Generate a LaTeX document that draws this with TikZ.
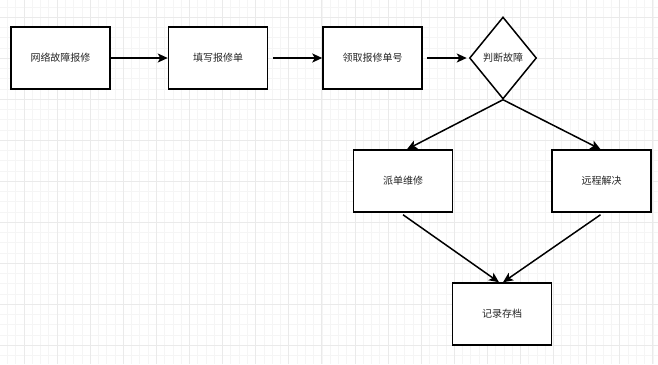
\documentclass[tikz,border=0pt]{standalone}
\usepackage{fontspec}
\newfontfamily\cjk{Noto Sans CJK SC}
\usetikzlibrary{positioning, arrows.meta, shapes.geometric}

\definecolor{gridminor}{HTML}{F5F5F5}
\definecolor{gridmajor}{HTML}{EAEAEA}

\begin{document}
\begin{tikzpicture}[
    x=1pt, y=-1pt,
    stepbox/.style={rectangle, draw=black, fill=white, line width=1.5pt, minimum width=99pt, minimum height=62pt, inner sep=0pt, font=\cjk\fontsize{10}{12}\selectfont, text=black!85},
    decide/.style={diamond, draw=black, fill=white, line width=1.5pt, minimum width=67pt, minimum height=82pt, inner sep=0pt, font=\cjk\fontsize{10}{12}\selectfont, text=black!85},
    arrow/.style={-{Stealth[length=10pt, width=9pt, inset=2.5pt]}, line width=1.5pt, draw=black}
]
    \useasboundingbox (0,0) rectangle (658,364);
    \fill[white] (0,0) rectangle (658,364);
    % background grid
    \begin{scope}[shift={(24,17.3)}]
        \draw[gridminor, line width=0.8pt, xstep=8.275pt, ystep=10.25pt] (-24,-17.3) grid (634,346.7);
        \draw[gridmajor, line width=0.9pt, xstep=33.1pt, ystep=41pt] (-24,-17.3) grid (634,346.7);
    \end{scope}

    \node [stepbox] (fault) at (60.5,58) {网络故障报修};
    \node [stepbox, right=57pt of fault] (fill) {填写报修单};
    \node [stepbox, right=54pt of fill] (take) {领取报修单号};
    \node [decide, right=46pt of take] (judge) {判断故障};
    \node [stepbox] (dispatch) at (403,181) {派单维修};
    \node [stepbox] (remote) at (601.5,181) {远程解决};
    \node [stepbox] (archive) at (502,314) {记录存档};

    \draw [arrow] (fault) -- (fill);
    \draw [arrow] ([xshift=5pt]fill.east) -- (take);
    \draw [arrow] ([xshift=4pt]take.east) -- ([xshift=-2pt]judge.west);
    \draw [arrow] (judge.south) -- ([xshift=4pt]dispatch.north);
    \draw [arrow] (judge.south) -- ([xshift=-1pt]remote.north);
    \draw [arrow] ([yshift=-2pt]dispatch.south) -- ([xshift=-3pt]archive.north);
    \draw [arrow] ([xshift=-1pt, yshift=-2pt]remote.south) -- ([xshift=1pt]archive.north);
\end{tikzpicture}
\end{document}
